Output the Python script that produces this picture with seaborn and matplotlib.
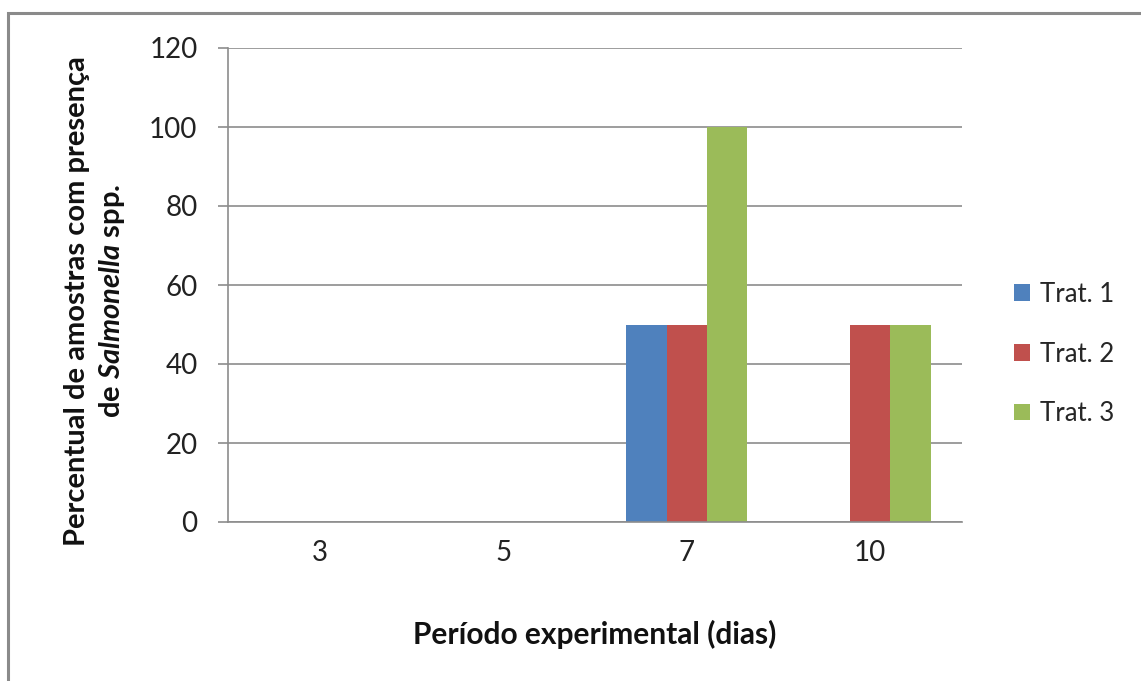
import matplotlib
matplotlib.use("Agg")
import matplotlib.pyplot as plt
import seaborn as sns
import pandas as pd
from matplotlib.patches import Rectangle

# data
periods = ["3", "5", "7", "10"]
series_names = ["Trat. 1", "Trat. 2", "Trat. 3"]
trat1 = [0, 0, 50, 0]
trat2 = [0, 0, 50, 50]
trat3 = [0, 0, 100, 50]
colors = ["#4F81BD", "#C0504D", "#9BBB59"]
y_ticks = [0, 20, 40, 60, 80, 100, 120]

rows = []
for name, vals in zip(series_names, [trat1, trat2, trat3]):
    for p, v in zip(periods, vals):
        rows.append({"Período": p, "Valor": v, "Série": name})
df = pd.DataFrame(rows)

sns.set_theme(style="white")
plt.rcParams["font.family"] = ["Lato", "DejaVu Sans"]
plt.rcParams["mathtext.fontset"] = "custom"
plt.rcParams["mathtext.it"] = "Lato:italic:bold"
plt.rcParams["mathtext.rm"] = "Lato:bold"

fig = plt.figure(figsize=(11.41, 6.81), dpi=100)
ax = fig.add_axes([228/1141, 1-522/681, (962-228)/1141, (522-48)/681])

sns.barplot(data=df, x="Período", y="Valor", hue="Série", order=periods,
            hue_order=series_names, palette=colors, width=0.66,
            saturation=1, ax=ax, edgecolor="none", linewidth=0)

ax.set_ylim(0, 120)
ax.set_yticks(y_ticks)
ax.set_xlim(-0.5, 3.5)
ax.yaxis.grid(True, color="#8C8C8C", linewidth=1.2)
ax.set_axisbelow(True)
for s in ["top", "right"]:
    ax.spines[s].set_visible(False)
for s in ["left", "bottom"]:
    ax.spines[s].set_color("#8C8C8C")
    ax.spines[s].set_linewidth(1.2)
ax.tick_params(axis="y", length=7, width=1.2, color="#8C8C8C", labelsize=20,
               labelcolor="#222222", pad=15, left=True)
ax.tick_params(axis="x", length=0, labelsize=20, labelcolor="#222222", pad=13)

ax.set_xlabel("Período experimental (dias)", fontsize=21.5, fontweight="bold",
              color="#111111", labelpad=39)
ax.set_ylabel("Percentual de amostras com presença\nde $\\mathit{Salmonella}$ spp.",
              fontsize=21, fontweight="bold", color="#111111",
              linespacing=1.3)
ax.yaxis.set_label_coords(-0.138, 1 - (301 - 48) / (522 - 48))

handles, labels = ax.get_legend_handles_labels()
leg = ax.legend(handles, labels, loc="center left",
                bbox_to_anchor=((1014 - 228) / 734, 1 - (354 - 48) / (522 - 48)),
                frameon=False, fontsize=18.5, handlelength=0.62, handleheight=0.62,
                handletextpad=0.4, labelspacing=1.35, borderpad=0,
                borderaxespad=0)

fig.patches.append(Rectangle((8/1141, -0.1), 1.2, (1-13/681)+0.1,
                             transform=fig.transFigure, fill=False,
                             edgecolor="#8A8A8A", linewidth=2.2))

fig.savefig("out.png", dpi=100, facecolor="white")
